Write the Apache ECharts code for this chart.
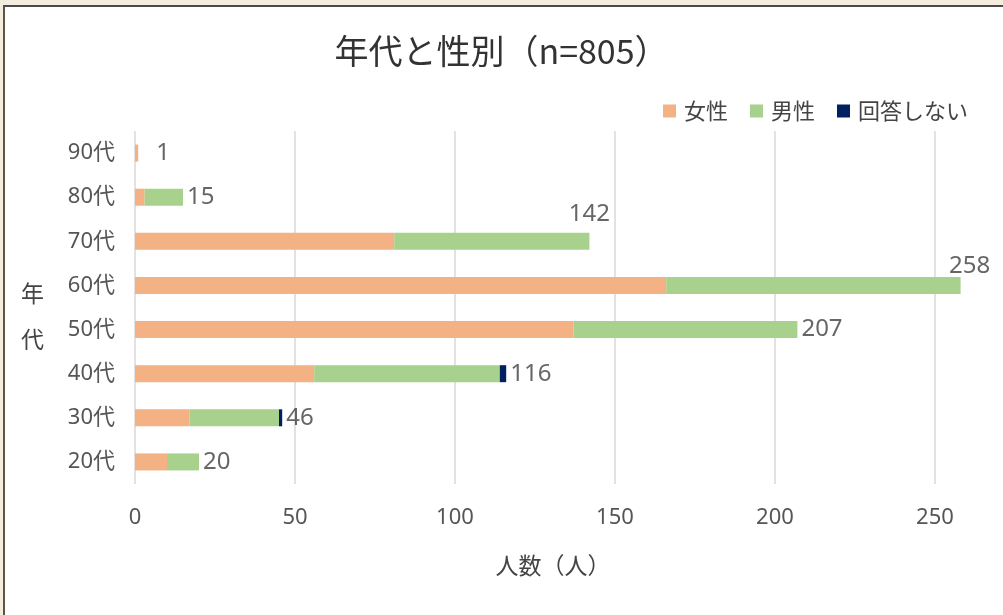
<!DOCTYPE html>
<html>
<head>
<meta charset="utf-8">
<script src="https://cdn.jsdelivr.net/npm/echarts@6/dist/echarts.min.js"></script>
<style>
  html, body { margin: 0; padding: 0; background: #f4ecdc; }
  #frame { position: absolute; left: 3px; top: 5px; width: 1000px; height: 610px; background: #fff;
           border-left: 2px solid #5c5445; border-top: 2px solid #4a4a4a; }
  #chart { position: absolute; left: 0; top: 0; width: 1003px; height: 615px; }
</style>
</head>
<body>
<div id="frame"></div>
<div id="chart"></div>
<script>
const categories = ['20代', '30代', '40代', '50代', '60代', '70代', '80代', '90代'];
const female = [10, 17, 56, 137, 166, 81, 3, 1];
const male = [10, 28, 58, 70, 92, 61, 12, 0];
const noAnswer = [0, 1, 2, 0, 0, 0, 0, 0];
const xTicks = [0, 50, 100, 150, 200, 250];
const seriesNames = ['女性', '男性', '回答しない'];

const totals = categories.map((c, i) => female[i] + male[i] + noAnswer[i]);

const cjk = '"Noto Sans CJK JP", "Noto Sans", sans-serif';
const latin = '"Noto Sans", "Noto Sans CJK JP", sans-serif';

const labelOverrides = {
  '90代': { offset: [14, 0] },
  '70代': { position: 'top', offset: [0, -11] },
  '60代': { position: 'top', offset: [9, -3] }
};

const chart = echarts.init(document.getElementById('chart'), null, { renderer: 'canvas' });
chart.setOption({
  backgroundColor: 'transparent',
  animation: false,
  textStyle: { fontFamily: cjk },
  title: {
    text: '年代と性別（n=805）',
    left: 'center',
    top: 29,
    textStyle: { fontSize: 34, fontWeight: 'normal', color: '#333', fontFamily: cjk }
  },
  legend: {
    data: seriesNames,
    right: 30,
    top: 95,
    itemWidth: 13,
    itemHeight: 13,
    itemGap: 22,
    icon: 'rect',
    textStyle: { fontSize: 22, color: '#444', fontFamily: cjk, padding: [0, 0, 0, 3] }
  },
  grid: { left: 135, right: 68, top: 131, bottom: 131, containLabel: false },
  xAxis: {
    type: 'value',
    min: 0,
    max: 250,
    interval: 50,
    name: '人数（人）',
    nameLocation: 'middle',
    nameGap: 70,
    nameTextStyle: { fontSize: 23, color: '#444', fontFamily: cjk, padding: [0, 0, 0, 36] },
    axisLine: { show: false },
    axisTick: { show: false },
    axisLabel: {
      fontSize: 22, color: '#555', margin: 23, fontFamily: latin,
      formatter: v => (xTicks.includes(v) ? String(v) : '')
    },
    splitLine: { show: true, lineStyle: { color: '#d9d9d9', width: 1.5 } }
  },
  yAxis: {
    type: 'category',
    data: categories,
    name: '{s|}\n年\n代',
    nameLocation: 'middle',
    nameRotate: 0,
    nameGap: 91,
    nameTextStyle: {
      fontSize: 23, color: '#444', lineHeight: 46, fontFamily: cjk,
      rich: { s: { lineHeight: 18, fontSize: 1 } }
    },
    axisLine: { show: false },
    axisTick: { show: false },
    axisLabel: { fontSize: 22, color: '#555', margin: 20, fontFamily: latin },
    splitLine: { show: false }
  },
  series: [
    { name: '女性', type: 'bar', stack: 'total', barWidth: 17, clip: false, data: female,
      itemStyle: { color: '#f4b183' } },
    { name: '男性', type: 'bar', stack: 'total', barWidth: 17, clip: false, data: male,
      itemStyle: { color: '#a9d18e' } },
    { name: '回答しない', type: 'bar', stack: 'total', barWidth: 17, clip: false, data: noAnswer,
      itemStyle: { color: '#002060' } },
    { name: 'total', type: 'scatter', symbolSize: 0, silent: true, clip: false,
      data: totals.map((t, i) => {
        const d = { value: [t, categories[i]] };
        if (labelOverrides[categories[i]]) d.label = labelOverrides[categories[i]];
        return d;
      }),
      label: {
        show: true, position: 'right', distance: 4,
        formatter: p => String(p.value[0]),
        fontSize: 24, color: '#404040', fontFamily: latin
      }
    }
  ]
});
</script>
</body>
</html>
